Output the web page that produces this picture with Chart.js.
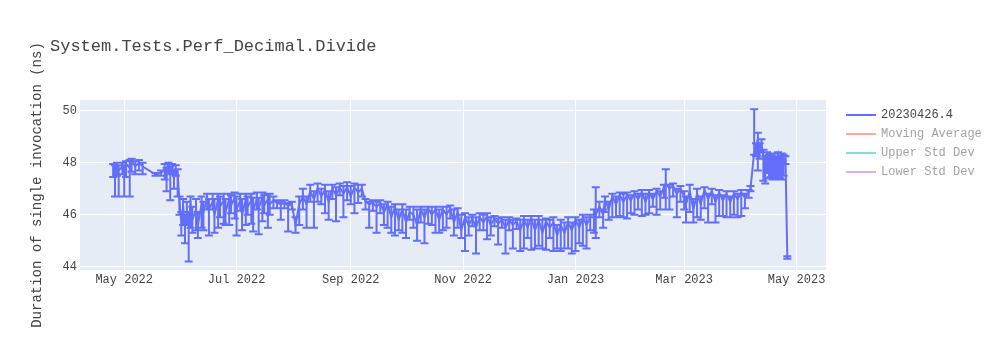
<!DOCTYPE html>
<html>
<head>
<meta charset="utf-8">
<title>System.Tests.Perf_Decimal.Divide</title>
<script src="https://cdn.jsdelivr.net/npm/chart.js@4.4.0/dist/chart.umd.min.js"></script>
<style>
  html, body { margin: 0; padding: 0; background: #fff; }
  #wrap { width: 1000px; height: 350px; }
</style>
</head>
<body>
<div id="wrap"><canvas id="perfChart" width="1000" height="350"></canvas></div>
<script>
const chartTitle = 'System.Tests.Perf_Decimal.Divide';
const yAxisTitle = 'Duration of single invocation (ns)';
const seriesName = '20230426.4';
const hiddenSeries = ['Moving Average', 'Upper Std Dev', 'Lower Std Dev'];
const hiddenColors = ['#EF553B', '#00CC96', '#AB63FA'];
const lineColor = '#636efa';

const yTicks = [44, 46, 48, 50];
const yRange = [43.87, 50.41];
const xRange = ['2022-04-07', '2023-05-17'];
const xTickDates = ['2022-05-01', '2022-07-01', '2022-09-01', '2022-11-01', '2023-01-01', '2023-03-01', '2023-05-01'];
const xTickLabels = ['May 2022', 'Jul 2022', 'Sep 2022', 'Nov 2022', 'Jan 2023', 'Mar 2023', 'May 2023'];

// run dates
const dates = [
  '2022-04-25','2022-04-26','2022-04-27','2022-04-28','2022-04-30','2022-05-01','2022-05-02','2022-05-04','2022-05-05','2022-05-07','2022-05-09','2022-05-11','2022-05-18','2022-05-21',
  '2022-05-23','2022-05-24','2022-05-25','2022-05-26','2022-05-27','2022-05-28','2022-05-29','2022-05-30',
  '2022-05-31','2022-06-01','2022-06-02','2022-06-03','2022-06-04','2022-06-05','2022-06-06','2022-06-07','2022-06-09','2022-06-10',
  '2022-06-12','2022-06-13','2022-06-15','2022-06-16','2022-06-18','2022-06-19','2022-06-21','2022-06-22','2022-06-24','2022-06-25',
  '2022-06-27','2022-06-28','2022-06-30','2022-07-01','2022-07-03','2022-07-04','2022-07-06','2022-07-07','2022-07-09','2022-07-10',
  '2022-07-12','2022-07-13','2022-07-15','2022-07-16','2022-07-18','2022-07-19','2022-07-21','2022-07-23','2022-07-25','2022-07-27',
  '2022-07-29','2022-07-31','2022-08-02','2022-08-04',
  '2022-08-06','2022-08-08','2022-08-10','2022-08-12','2022-08-14','2022-08-16','2022-08-18','2022-08-20','2022-08-22','2022-08-24',
  '2022-08-26','2022-08-28','2022-08-30','2022-09-01','2022-09-03','2022-09-05','2022-09-07',
  '2022-09-09','2022-09-11','2022-09-13','2022-09-15','2022-09-17','2022-09-19','2022-09-21','2022-09-23','2022-09-25','2022-09-27',
  '2022-09-29','2022-10-01','2022-10-03',
  '2022-10-05','2022-10-07','2022-10-09','2022-10-11','2022-10-13','2022-10-15','2022-10-17','2022-10-19','2022-10-21','2022-10-23',
  '2022-10-25','2022-10-27','2022-10-29','2022-10-31',
  '2022-11-02','2022-11-04','2022-11-06','2022-11-08','2022-11-10','2022-11-12','2022-11-14','2022-11-16','2022-11-18','2022-11-20',
  '2022-11-22','2022-11-24','2022-11-26','2022-11-28','2022-11-30','2022-12-02','2022-12-04','2022-12-06','2022-12-08','2022-12-10',
  '2022-12-12','2022-12-14','2022-12-16','2022-12-18',
  '2022-12-20','2022-12-22','2022-12-24','2022-12-26','2022-12-28','2022-12-30','2023-01-01','2023-01-03','2023-01-05','2023-01-07','2023-01-09',
  '2023-01-11','2023-01-12','2023-01-14','2023-01-16','2023-01-17','2023-01-19','2023-01-21','2023-01-23','2023-01-25','2023-01-27','2023-01-29',
  '2023-01-31','2023-02-02','2023-02-04','2023-02-06','2023-02-08','2023-02-10','2023-02-12','2023-02-14','2023-02-16','2023-02-18',
  '2023-02-19','2023-02-21','2023-02-23','2023-02-25','2023-02-27',
  '2023-03-01','2023-03-02','2023-03-04','2023-03-06','2023-03-08','2023-03-10','2023-03-12','2023-03-14','2023-03-16','2023-03-18',
  '2023-03-20','2023-03-22','2023-03-24','2023-03-26','2023-03-28','2023-03-30','2023-04-01','2023-04-03','2023-04-05','2023-04-06',
  '2023-04-08','2023-04-09','2023-04-10','2023-04-11','2023-04-12','2023-04-13','2023-04-14','2023-04-15','2023-04-16','2023-04-17',
  '2023-04-18','2023-04-19','2023-04-20','2023-04-21','2023-04-22','2023-04-23','2023-04-24','2023-04-25','2023-04-26'
];

// mean duration (ns)
const means = [
  47.75,47.60,47.90,47.70,47.85,47.60,47.95,47.80,48.05,47.85,48.00,47.85,47.55,47.60,
  47.75,47.50,47.90,47.65,47.85,47.40,47.70,47.60,
  46.50,45.70,46.30,45.50,46.10,45.60,46.40,45.80,46.20,45.60,
  46.40,46.10,46.60,46.20,46.50,46.00,46.60,46.30,46.55,46.10,
  46.60,46.35,46.65,46.20,46.55,46.00,46.60,46.30,46.55,46.15,
  46.60,46.25,46.65,46.35,46.60,46.40,46.55,46.45,46.40,46.45,
  46.35,46.40,45.60,46.40,
  46.70,46.40,46.90,46.60,47.00,46.70,46.95,46.50,47.00,46.75,
  47.05,46.80,47.05,46.70,47.05,46.85,47.00,
  46.50,46.40,46.45,46.30,46.45,46.10,46.40,45.90,46.30,45.80,
  46.20,45.70,46.10,
  46.00,45.60,46.20,45.90,46.25,46.00,46.20,45.80,46.20,46.00,
  46.25,45.70,46.10,45.40,
  45.90,45.60,45.85,45.50,45.90,45.70,45.95,45.60,45.85,45.65,
  45.80,45.50,45.80,45.60,45.75,45.40,45.80,45.50,45.85,45.40,
  45.80,45.30,45.75,45.50,
  45.70,45.20,45.60,45.30,45.70,45.40,45.80,45.50,45.90,45.60,45.90,
  45.90,46.00,46.30,46.00,46.60,46.20,46.70,46.40,46.75,46.50,46.75,
  46.55,46.80,46.60,46.85,46.50,46.85,46.60,46.90,46.70,47.05,
  47.20,47.00,47.10,46.80,47.00,
  46.70,46.40,46.90,46.20,46.80,46.40,46.95,46.60,46.90,46.50,
  46.85,46.55,46.80,46.50,46.80,46.60,46.85,46.65,46.85,47.00,
  48.40,48.55,48.90,48.45,48.70,48.20,47.95,48.30,47.90,48.25,
  47.85,48.25,47.95,48.30,47.90,48.25,48.20,48.15,44.35
];

// error above the mean
const errPlus = [
  0.20,0.30,0.10,0.20,0.15,0.30,0.10,0.30,0.10,0.20,0.10,0.15,0.05,0.10,
  0.20,0.30,0.10,0.20,0.10,0.30,0.20,0.15,
  0.20,0.40,0.30,0.50,0.40,0.50,0.30,0.50,0.40,0.50,
  0.30,0.40,0.20,0.40,0.30,0.60,0.20,0.40,0.25,0.50,
  0.20,0.40,0.20,0.50,0.25,0.60,0.20,0.40,0.25,0.50,
  0.25,0.40,0.20,0.40,0.20,0.40,0.15,0.10,0.10,0.10,
  0.10,0.10,0.30,0.30,
  0.30,0.30,0.25,0.30,0.20,0.30,0.20,0.40,0.15,0.30,
  0.15,0.30,0.20,0.40,0.15,0.30,0.15,
  0.10,0.10,0.10,0.20,0.10,0.30,0.10,0.40,0.10,0.40,
  0.20,0.50,0.20,
  0.30,0.60,0.10,0.30,0.05,0.30,0.10,0.40,0.10,0.30,
  0.10,0.50,0.15,0.60,
  0.15,0.30,0.15,0.40,0.15,0.30,0.10,0.30,0.10,0.20,
  0.10,0.30,0.10,0.20,0.10,0.40,0.15,0.30,0.10,0.40,
  0.15,0.50,0.10,0.30,
  0.20,0.40,0.20,0.40,0.20,0.30,0.10,0.30,0.10,0.30,0.10,
  0.30,1.05,0.20,0.20,0.10,0.30,0.10,0.30,0.10,0.30,0.10,
  0.20,0.10,0.20,0.10,0.30,0.10,0.20,0.10,0.20,0.10,
  0.55,0.15,0.10,0.20,0.10,
  0.20,0.30,0.25,0.40,0.20,0.30,0.10,0.20,0.10,0.25,
  0.10,0.20,0.10,0.20,0.10,0.20,0.10,0.15,0.10,0.10,
  1.65,0.20,0.25,0.30,0.20,0.30,0.30,0.10,0.40,0.10,
  0.40,0.10,0.30,0.10,0.35,0.10,0.10,0.10,0.05
];

// error below the mean
const errMinus = [
  0.30,0.90,0.40,1.00,0.30,0.90,0.50,1.10,0.40,0.30,0.30,0.30,0.05,0.10,
  0.40,0.60,0.30,1.10,0.30,0.40,0.20,0.90,
  0.50,0.50,0.70,0.60,0.50,1.40,0.90,0.50,0.80,0.50,
  0.90,0.70,0.40,1.00,0.30,0.70,1.10,0.40,0.90,0.50,
  1.00,0.30,0.80,1.00,0.40,0.60,1.00,0.30,0.90,0.80,
  0.40,1.00,0.90,0.30,1.10,0.40,0.30,0.20,0.60,0.20,
  1.00,0.20,0.30,0.80,
  0.50,0.90,0.40,1.10,0.50,0.30,0.90,0.70,0.40,1.00,
  0.30,0.90,0.50,0.30,1.00,0.40,0.30,
  0.30,0.90,0.30,1.00,0.40,0.50,0.90,0.60,1.10,0.40,
  0.90,0.60,0.30,
  0.50,0.60,0.50,1.00,0.60,0.40,0.90,0.50,0.80,0.50,
  0.40,0.50,0.60,0.30,
  1.30,0.40,0.30,1.00,0.50,0.30,0.90,0.40,0.30,0.80,
  0.30,1.00,0.40,0.90,0.30,0.80,1.10,0.40,1.20,0.70,
  1.00,0.60,1.10,0.40,
  1.10,0.50,1.00,0.60,1.00,0.90,1.20,0.60,1.10,0.90,0.50,
  0.60,0.90,0.40,0.50,0.50,0.40,0.80,0.50,0.80,0.60,0.90,
  0.50,0.80,0.40,0.90,0.50,0.80,0.30,0.90,0.50,0.40,
  1.00,0.80,0.40,0.90,0.50,
  0.50,0.70,0.80,0.50,0.90,0.60,0.70,0.90,0.50,0.80,
  0.90,0.60,0.90,0.60,0.80,0.70,0.90,0.40,0.20,0.10,
  0.10,0.30,1.20,0.30,0.30,0.90,0.75,0.70,0.50,0.80,
  0.50,0.90,0.60,0.90,0.50,0.90,0.70,0.20,0.05
];

const fontFamily = '"Courier New", "Liberation Mono", monospace';

// plot background like plotly
const plotBackground = {
  id: 'plotBackground',
  beforeDraw(chart) {
    const { ctx, chartArea } = chart;
    ctx.save();
    ctx.fillStyle = '#fff';
    ctx.fillRect(0, 0, chart.width, chart.height);
    ctx.fillStyle = '#e5ecf6';
    ctx.fillRect(chartArea.left, chartArea.top, chartArea.right - chartArea.left, chartArea.bottom - chartArea.top);
    ctx.restore();
  }
};

// vertical error bars with caps
const errorBars = {
  id: 'errorBars',
  beforeDatasetsDraw(chart) {
    const { ctx, scales: { x, y } } = chart;
    if (!chart.isDatasetVisible(0)) return;
    ctx.save();
    ctx.strokeStyle = lineColor;
    ctx.lineWidth = 2;
    ctx.beginPath();
    dates.forEach((d, i) => {
      const px = x.getPixelForValue(Date.parse(d));
      const top = y.getPixelForValue(means[i] + errPlus[i]);
      const bot = y.getPixelForValue(means[i] - errMinus[i]);
      ctx.moveTo(px, top); ctx.lineTo(px, bot);
      ctx.moveTo(px - 4, top); ctx.lineTo(px + 4, top);
      ctx.moveTo(px - 4, bot); ctx.lineTo(px + 4, bot);
    });
    ctx.stroke();
    ctx.restore();
  }
};

// title + legend drawn plotly-style
const titleAndLegend = {
  id: 'titleAndLegend',
  afterDraw(chart) {
    const { ctx, chartArea } = chart;
    ctx.save();
    ctx.textBaseline = 'middle';
    ctx.fillStyle = '#444';
    ctx.font = '17px ' + fontFamily;
    ctx.fillText(chartTitle, 50, 46);

    ctx.font = '12px ' + fontFamily;
    const x0 = chartArea.right + 20;
    chart.data.datasets.forEach((ds, i) => {
      const ly = chartArea.top + 15 + i * 19;
      ctx.globalAlpha = ds.hidden ? 0.5 : 1;
      ctx.strokeStyle = ds.borderColor;
      ctx.lineWidth = 2;
      ctx.beginPath();
      ctx.moveTo(x0, ly);
      ctx.lineTo(x0 + 30, ly);
      ctx.stroke();
      ctx.fillStyle = '#444';
      ctx.fillText(ds.label, x0 + 35, ly);
    });
    ctx.restore();
  }
};

const datasets = [{
  label: seriesName,
  data: dates.map((d, i) => ({ x: Date.parse(d), y: means[i] })),
  borderColor: lineColor,
  backgroundColor: lineColor,
  borderWidth: 2,
  pointRadius: 0,
  tension: 0
}];
hiddenSeries.forEach((name, i) => {
  datasets.push({
    label: name,
    data: [],
    hidden: true,
    borderColor: hiddenColors[i],
    backgroundColor: hiddenColors[i],
    borderWidth: 2,
    pointRadius: 0
  });
});

const ctx = document.getElementById('perfChart').getContext('2d');
new Chart(ctx, {
  type: 'line',
  data: { datasets: datasets },
  options: {
    responsive: false,
    animation: false,
    devicePixelRatio: 1,
    layout: { padding: { left: 25, right: 174, top: 100, bottom: 0 } },
    plugins: {
      legend: { display: false },
      title: { display: false },
      tooltip: { enabled: false }
    },
    scales: {
      x: {
        type: 'linear',
        min: Date.parse(xRange[0]),
        max: Date.parse(xRange[1]),
        afterBuildTicks: (scale) => {
          scale.ticks = xTickDates.map(d => ({ value: Date.parse(d) }));
        },
        afterFit: (scale) => { scale.height = 80; },
        ticks: {
          font: { family: fontFamily, size: 12 },
          color: '#444',
          padding: 3,
          maxRotation: 0,
          autoSkip: false,
          callback: (value) => {
            const idx = xTickDates.findIndex(d => Date.parse(d) === value);
            return idx >= 0 ? xTickLabels[idx] : '';
          }
        },
        grid: { color: '#fff', lineWidth: 1, drawTicks: false },
        border: { display: false }
      },
      y: {
        min: yRange[0],
        max: yRange[1],
        afterBuildTicks: (scale) => {
          scale.ticks = yTicks.map(v => ({ value: v }));
        },
        afterFit: (scale) => { scale.width = 55; },
        ticks: {
          font: { family: fontFamily, size: 12 },
          color: '#444',
          padding: 3
        },
        grid: { color: '#fff', lineWidth: 1, drawTicks: false },
        border: { display: false },
        title: {
          display: true,
          text: yAxisTitle,
          color: '#444',
          font: { family: fontFamily, size: 14 },
          padding: { top: 4, bottom: 4 }
        }
      }
    }
  },
  plugins: [plotBackground, errorBars, titleAndLegend]
});
</script>
</body>
</html>
